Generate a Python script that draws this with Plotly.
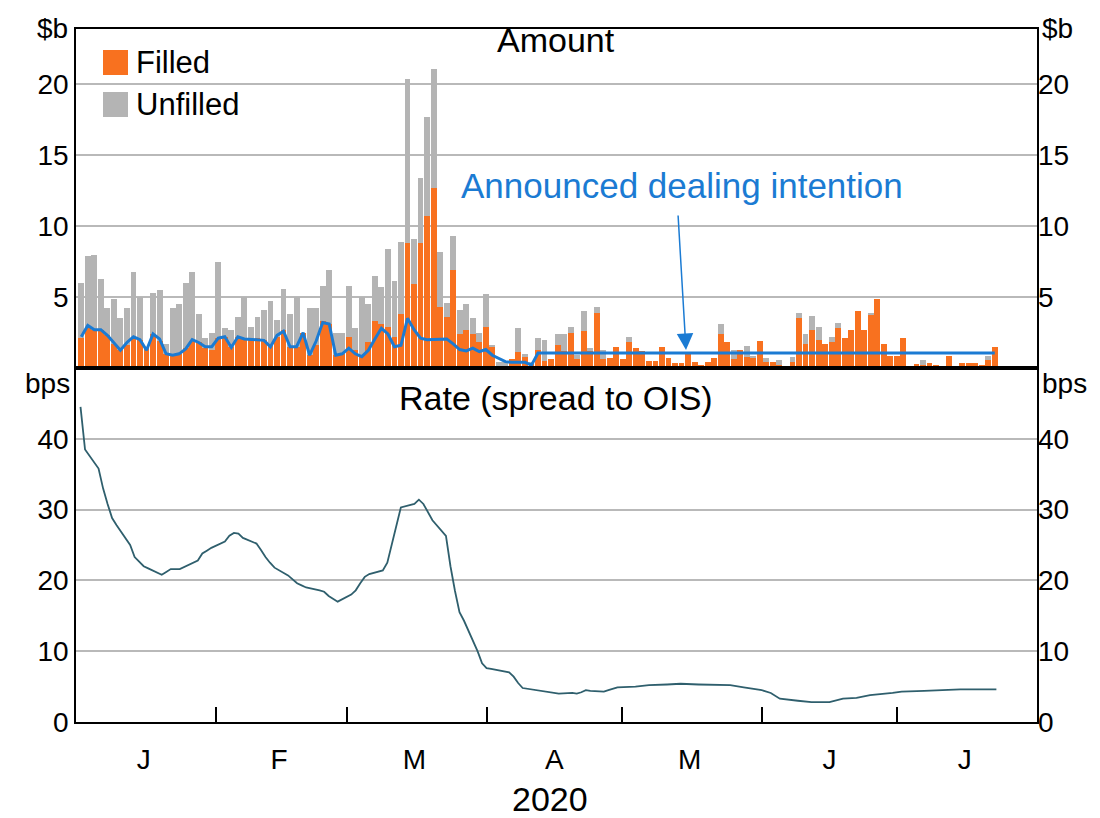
import plotly.graph_objects as go
import pandas as pd

# ---------------- data ----------------
holidays = ["2020-01-27", "2020-04-10", "2020-04-13", "2020-06-08"]
bar_dates = [d.strftime("%Y-%m-%d") for d in pd.bdate_range("2020-01-02", "2020-07-22")
             if d.strftime("%Y-%m-%d") not in holidays]

filled = [
    2.1, 2.9, 2.7, 2.7, 2.3, 1.7, 1.3, 1.6, 2.2, 2.0,
    1.5, 2.4, 1.9, 1.0, 0.9, 1.0, 1.4, 1.9, 1.8, 1.4,
    1.3, 2.1, 2.2, 1.5, 2.2, 2.1, 2.0, 2.1, 2.0, 1.6,
    2.2, 2.7, 1.5, 1.5, 2.5, 0.9, 1.6, 3.3, 3.1, 0.9,
    1.0, 2.2, 1.3, 0.9, 1.8, 3.3, 3.1, 2.9, 2.2, 3.8,
    8.8, 5.9, 8.8, 10.7, 12.7, 4.3, 3.6, 6.9, 2.4, 2.7,
    2.4, 1.8, 2.9, 1.5, 0.1, 0.1, 0.6, 1.1, 0.8, 0.3,
    1.3, 0.5, 0.6, 1.6, 1.2, 2.5, 0.6, 2.6, 1.2, 3.9,
    0.6, 0.7, 1.5, 0.6, 1.8, 1.4, 1.2, 0.5, 0.5, 1.5,
    0.7, 0.35, 0.35, 1.0, 0.45, 0.2, 0.45, 0.7, 2.4, 1.8,
    0.6, 1.3, 0.8, 0.75, 1.9, 0.45, 0.45, 0.2, 0.15, 0.45,
    3.5, 1.7, 2.7, 2.0, 1.7, 1.8, 2.8, 2.1, 2.7, 4.0,
    2.7, 3.8, 4.9, 1.7, 0.85, 0.85, 2.1, 0.15, 0.3, 0.2,
    0.35, 0.2, 0.15, 0.85, 0.0, 0.35, 0.35, 0.35, 0.2, 0.55,
    1.5,
]

total_bid = [
    6.0, 7.9, 8.0, 6.3, 4.2, 4.9, 3.5, 4.2, 6.8, 5.0,
    1.5, 5.3, 5.5, 1.7, 4.2, 4.5, 6.0, 6.8, 3.8, 2.1,
    2.5, 7.5, 2.8, 2.7, 3.6, 5.0, 2.9, 3.6, 4.1, 4.7,
    3.4, 5.6, 3.8, 5.0, 2.5, 4.2, 4.2, 5.8, 6.9, 2.5,
    2.5, 5.8, 2.8, 5.0, 4.5, 6.5, 5.7, 8.4, 6.1, 8.9,
    20.4, 9.1, 13.4, 17.7, 21.1, 8.2, 4.6, 9.3, 4.1, 4.5,
    3.5, 2.5, 5.2, 1.6, 0.4, 0.4, 0.6, 2.8, 1.0, 0.4,
    2.1, 1.95, 0.6, 2.4, 2.4, 2.9, 0.9, 4.0, 1.4, 4.3,
    1.3, 0.7, 1.5, 0.6, 2.2, 1.4, 1.2, 0.5, 0.5, 1.5,
    0.7, 0.35, 0.35, 1.0, 0.45, 0.2, 0.45, 0.7, 3.1, 1.8,
    1.3, 1.3, 1.55, 0.8, 1.9, 0.7, 0.45, 0.55, 0.15, 0.75,
    3.9, 2.4, 3.7, 2.9, 1.7, 2.2, 3.2, 2.1, 2.7, 4.0,
    2.7, 3.9, 4.9, 1.7, 0.85, 0.85, 2.1, 0.15, 0.3, 0.55,
    0.35, 0.2, 0.15, 0.85, 0.0, 0.35, 0.35, 0.35, 0.2, 0.85,
    1.5,
]

intention = [
    2.2, 3.0, 2.7, 2.7, 2.3, 1.8, 1.25, 1.8, 2.2, 2.0,
    1.25, 2.4, 2.05, 1.0, 0.9, 1.0, 1.35, 2.0, 1.8, 1.5,
    1.5, 2.1, 2.2, 1.45, 2.2, 2.05, 2.0, 2.0, 1.95, 1.5,
    2.3, 2.6, 1.5, 1.5, 2.5, 0.9, 1.9, 3.2, 3.1, 0.9,
    1.0, 1.4, 1.0, 0.8, 1.25, 2.05, 2.8, 2.4, 1.5, 1.6,
    3.5, 2.7, 2.1, 2.0, 2.0, 2.05, 2.05, 1.7, 1.3, 1.2,
    1.4, 1.15, 1.3, 0.9, 0.7, 0.45, 0.4, 0.4, 0.4, 0.2,
    1.05, 1.05, 1.05, 1.05, 1.05, 1.05, 1.05, 1.05, 1.05, 1.05,
    1.05, 1.05, 1.05, 1.05, 1.05, 1.05, 1.05, 1.05, 1.05, 1.05,
    1.05, 1.05, 1.05, 1.05, 1.05, 1.05, 1.05, 1.05, 1.05, 1.05,
    1.05, 1.05, 1.05, 1.05, 1.05, 1.05, 1.05, 1.05, 1.05, 1.05,
    1.05, 1.05, 1.05, 1.05, 1.05, 1.05, 1.05, 1.05, 1.05, 1.05,
    1.05, 1.05, 1.05, 1.05, 1.05, 1.05, 1.05, 1.05, 1.05, 1.05,
    1.05, 1.05, 1.05, 1.05, 1.05, 1.05, 1.05, 1.05, 1.05, 1.05,
    1.05,
]

rate_dates = [
    "2020-01-02", "2020-01-03", "2020-01-06", "2020-01-07", "2020-01-08", "2020-01-09",
    "2020-01-10", "2020-01-13", "2020-01-14", "2020-01-15", "2020-01-16", "2020-01-17",
    "2020-01-20", "2020-01-21", "2020-01-22", "2020-01-23", "2020-01-24", "2020-01-28",
    "2020-01-29", "2020-01-30", "2020-01-31", "2020-02-03", "2020-02-04", "2020-02-05",
    "2020-02-06", "2020-02-07", "2020-02-10", "2020-02-11", "2020-02-12", "2020-02-13",
    "2020-02-14", "2020-02-17", "2020-02-18", "2020-02-19", "2020-02-20", "2020-02-21",
    "2020-02-24", "2020-02-25", "2020-02-26", "2020-02-27", "2020-02-28", "2020-03-02",
    "2020-03-03", "2020-03-04", "2020-03-05", "2020-03-06", "2020-03-09", "2020-03-10",
    "2020-03-11", "2020-03-12", "2020-03-13", "2020-03-16", "2020-03-17", "2020-03-18",
    "2020-03-19", "2020-03-20", "2020-03-23", "2020-03-24", "2020-03-25", "2020-03-26",
    "2020-03-27", "2020-03-30", "2020-03-31", "2020-04-01", "2020-04-02", "2020-04-03",
    "2020-04-06", "2020-04-07", "2020-04-08", "2020-04-09", "2020-04-14", "2020-04-15",
    "2020-04-16", "2020-04-17", "2020-04-20", "2020-04-21", "2020-04-22", "2020-04-23",
    "2020-04-24", "2020-04-27", "2020-04-28", "2020-04-29", "2020-04-30", "2020-05-04",
    "2020-05-07", "2020-05-11", "2020-05-14", "2020-05-18", "2020-05-21", "2020-05-25",
    "2020-05-28", "2020-06-01", "2020-06-03", "2020-06-04", "2020-06-05", "2020-06-09",
    "2020-06-12", "2020-06-16", "2020-06-19", "2020-06-22", "2020-06-25", "2020-06-30",
    "2020-07-02", "2020-07-07", "2020-07-10", "2020-07-15", "2020-07-20", "2020-07-23",
]
rate_values = [
    44.5, 38.5, 35.8, 33.0, 30.8, 28.8,
    27.8, 25.0, 23.3, 22.6, 22.0, 21.7,
    20.8, 21.2, 21.6, 21.6, 21.6, 22.8,
    23.8, 24.2, 24.6, 25.5, 26.3, 26.7,
    26.6, 26.0, 25.2, 24.3, 23.3, 22.5,
    21.8, 20.7, 20.1, 19.6, 19.3, 19.0,
    18.6, 18.4, 17.8, 17.4, 17.0, 18.0,
    18.6, 19.6, 20.5, 20.9, 21.4, 22.5,
    25.0, 27.5, 30.3, 30.8, 31.4, 30.8,
    29.6, 28.5, 26.3, 22.0, 18.5, 15.5,
    14.3, 10.0, 8.3, 7.6, 7.5, 7.4,
    7.0, 6.4, 5.5, 4.8, 4.3, 4.1,
    4.1, 4.0, 4.1, 4.0, 4.2, 4.5,
    4.4, 4.3, 4.5, 4.7, 4.9, 5.0,
    5.2, 5.3, 5.4, 5.3, 5.3, 5.2,
    4.9, 4.5, 4.1, 3.7, 3.3, 3.0,
    2.8, 2.8, 3.3, 3.4, 3.8, 4.1,
    4.3, 4.4, 4.5, 4.6, 4.6, 4.6,
]

month_starts = ["2020-02-01", "2020-03-01", "2020-04-01", "2020-05-01", "2020-06-01", "2020-07-01"]
month_mids = ["2020-01-16", "2020-02-15", "2020-03-16", "2020-04-16", "2020-05-16", "2020-06-16", "2020-07-16"]
month_letters = ["J", "F", "M", "A", "M", "J", "J"]
amount_ticks = [5, 10, 15, 20]
rate_ticks = [0, 10, 20, 30, 40]
legend_names = ["Filled", "Unfilled"]

unfilled = [max(t - f, 0) for t, f in zip(total_bid, filled)]

# ---------------- style ----------------
ORANGE = "#f8711f"
GREY = "#b4b4b4"
BLUE = "#1b7bd3"
TEAL = "#2f5f6d"
GRID = "#b9b9b9"
FONT = "Liberation Sans, Arial, sans-serif"
FS = 28      # tick labels
FT = 34      # panel titles
FL = 31      # legend

# page body has an 8px margin: work in window pixels and convert
OFF = 8
W, H = 1100 - OFF, 818 - OFF
PL, PR, PT, PB = 76, 1037, 29, 722          # plot area in window pixels
ML, MT = PL - OFF, PT - OFF
MR, MB = W - (PR - OFF), H - (PB - OFF)
PW, PH = PR - PL, PB - PT

fig = go.Figure()
fig.add_trace(go.Bar(x=bar_dates, y=filled, name=legend_names[0], marker=dict(color=ORANGE, line=dict(width=0)),
                     xaxis="x", yaxis="y", showlegend=False))
fig.add_trace(go.Bar(x=bar_dates, y=unfilled, name=legend_names[1], marker=dict(color=GREY, line=dict(width=0)),
                     xaxis="x", yaxis="y", showlegend=False))
fig.add_trace(go.Scatter(x=bar_dates, y=intention, mode="lines", line=dict(color=BLUE, width=3),
                         name="Announced dealing intention", showlegend=False, xaxis="x", yaxis="y"))
fig.add_trace(go.Scatter(x=bar_dates, y=filled, mode="lines", opacity=0, showlegend=False,
                         hoverinfo="skip", xaxis="x", yaxis="y3"))
fig.add_trace(go.Scatter(x=rate_dates, y=rate_values, mode="lines", line=dict(color=TEAL, width=1.8),
                         name="Rate", showlegend=False, xaxis="x2", yaxis="y2"))
fig.add_trace(go.Scatter(x=rate_dates, y=rate_values, mode="lines", opacity=0, showlegend=False,
                         hoverinfo="skip", xaxis="x3", yaxis="y4"))

split = (PB - 368) / PH
n = len(bar_dates)
px_per_bar = 920 / n
r0 = -0.5 - 2 / px_per_bar
r1 = r0 + PW / px_per_bar

date_range = ["2020-01-01", "2020-08-01"]

fig.update_layout(
    width=W, height=H,
    margin=dict(l=ML, r=MR, t=MT, b=MB, pad=0),
    paper_bgcolor="white", plot_bgcolor="white",
    font=dict(family=FONT, size=FS, color="black"),
    barmode="stack", bargap=0.1,
    showlegend=False,
    xaxis=dict(type="category", domain=[0, 1], anchor="y", range=[r0, r1], showticklabels=False,
               ticks="", showgrid=False, showline=True, linecolor="black", linewidth=1.5, mirror=True),
    yaxis=dict(domain=[split, 1], range=[0, 23.9], tickvals=amount_ticks, showgrid=True, gridcolor=GRID,
               gridwidth=1.5, zeroline=False, ticks="", showline=True, linecolor="black", linewidth=1.5,
               mirror=True, tickfont=dict(size=FS)),
    yaxis3=dict(overlaying="y", side="right", range=[0, 23.9], tickvals=amount_ticks, showgrid=False,
                zeroline=False, ticks="", tickfont=dict(size=FS)),
    xaxis2=dict(type="date", domain=[0, 1], anchor="y2", range=date_range, tickvals=month_starts,
                showticklabels=False, ticks="inside", ticklen=15, tickwidth=1.5, tickcolor="black",
                showgrid=False, showline=True, linecolor="black", linewidth=1.5, mirror=True),
    xaxis3=dict(type="date", overlaying="x2", anchor="y2", side="bottom", range=date_range,
                tickvals=month_mids, ticktext=month_letters, ticks="outside", ticklen=12,
                tickcolor="rgba(0,0,0,0)", showgrid=False, showline=False, tickfont=dict(size=FS)),
    yaxis2=dict(domain=[0, split], range=[0, 50], tickvals=rate_ticks, showgrid=True, gridcolor=GRID,
                gridwidth=1.5, zeroline=False, ticks="", showline=True, linecolor="black", linewidth=1.5,
                mirror=True, tickfont=dict(size=FS)),
    yaxis4=dict(overlaying="y2", side="right", range=[0, 50], tickvals=rate_ticks, showgrid=False,
                zeroline=False, ticks="", tickfont=dict(size=FS)),
)

def px_x(x):
    return (x - PL) / PW

def px_y(y):
    return (PB - y) / PH

annotations = [
    dict(text="Amount", x=px_x(556), y=px_y(40), xref="paper", yref="paper", showarrow=False,
         xanchor="center", yanchor="middle", font=dict(size=FT)),
    dict(text="Rate (spread to OIS)", x=px_x(556), y=px_y(398), xref="paper", yref="paper", showarrow=False,
         xanchor="center", yanchor="middle", font=dict(size=FT)),
    dict(text="$b", x=px_x(70), y=px_y(28), xref="paper", yref="paper", showarrow=False,
         xanchor="right", yanchor="middle", font=dict(size=FS)),
    dict(text="$b", x=px_x(1040), y=px_y(28), xref="paper", yref="paper", showarrow=False,
         xanchor="left", yanchor="middle", font=dict(size=FS)),
    dict(text="bps", x=px_x(72), y=px_y(383), xref="paper", yref="paper", showarrow=False,
         xanchor="right", yanchor="middle", font=dict(size=FS)),
    dict(text="bps", x=px_x(1040), y=px_y(383), xref="paper", yref="paper", showarrow=False,
         xanchor="left", yanchor="middle", font=dict(size=FS)),
    dict(text="2020", x=px_x(550), y=px_y(799), xref="paper", yref="paper", showarrow=False,
         xanchor="center", yanchor="middle", font=dict(size=FT)),
    dict(text="Announced dealing intention", x=px_x(682), y=px_y(185), xref="paper", yref="paper",
         showarrow=False, xanchor="center", yanchor="middle", font=dict(size=FT + 1, color=BLUE)),
    dict(text="", x=px_x(686), y=px_y(350), xref="paper", yref="paper", showarrow=True,
         ax=-8, ay=-136, arrowhead=2, arrowsize=2.2, arrowwidth=1.5, arrowcolor=BLUE),
    dict(text=legend_names[0], x=px_x(134), y=px_y(62), xref="paper", yref="paper", showarrow=False,
         xanchor="left", yanchor="middle", font=dict(size=FL)),
    dict(text=legend_names[1], x=px_x(134), y=px_y(104), xref="paper", yref="paper", showarrow=False,
         xanchor="left", yanchor="middle", font=dict(size=FL)),
]

shapes = [
    dict(type="rect", xref="paper", yref="paper", x0=px_x(103), x1=px_x(128), y0=px_y(75), y1=px_y(50),
         fillcolor=ORANGE, line=dict(width=0)),
    dict(type="rect", xref="paper", yref="paper", x0=px_x(103), x1=px_x(128), y0=px_y(117), y1=px_y(92),
         fillcolor=GREY, line=dict(width=0)),
]
fig.update_layout(annotations=annotations, shapes=shapes)

fig.write_html("out.html")
